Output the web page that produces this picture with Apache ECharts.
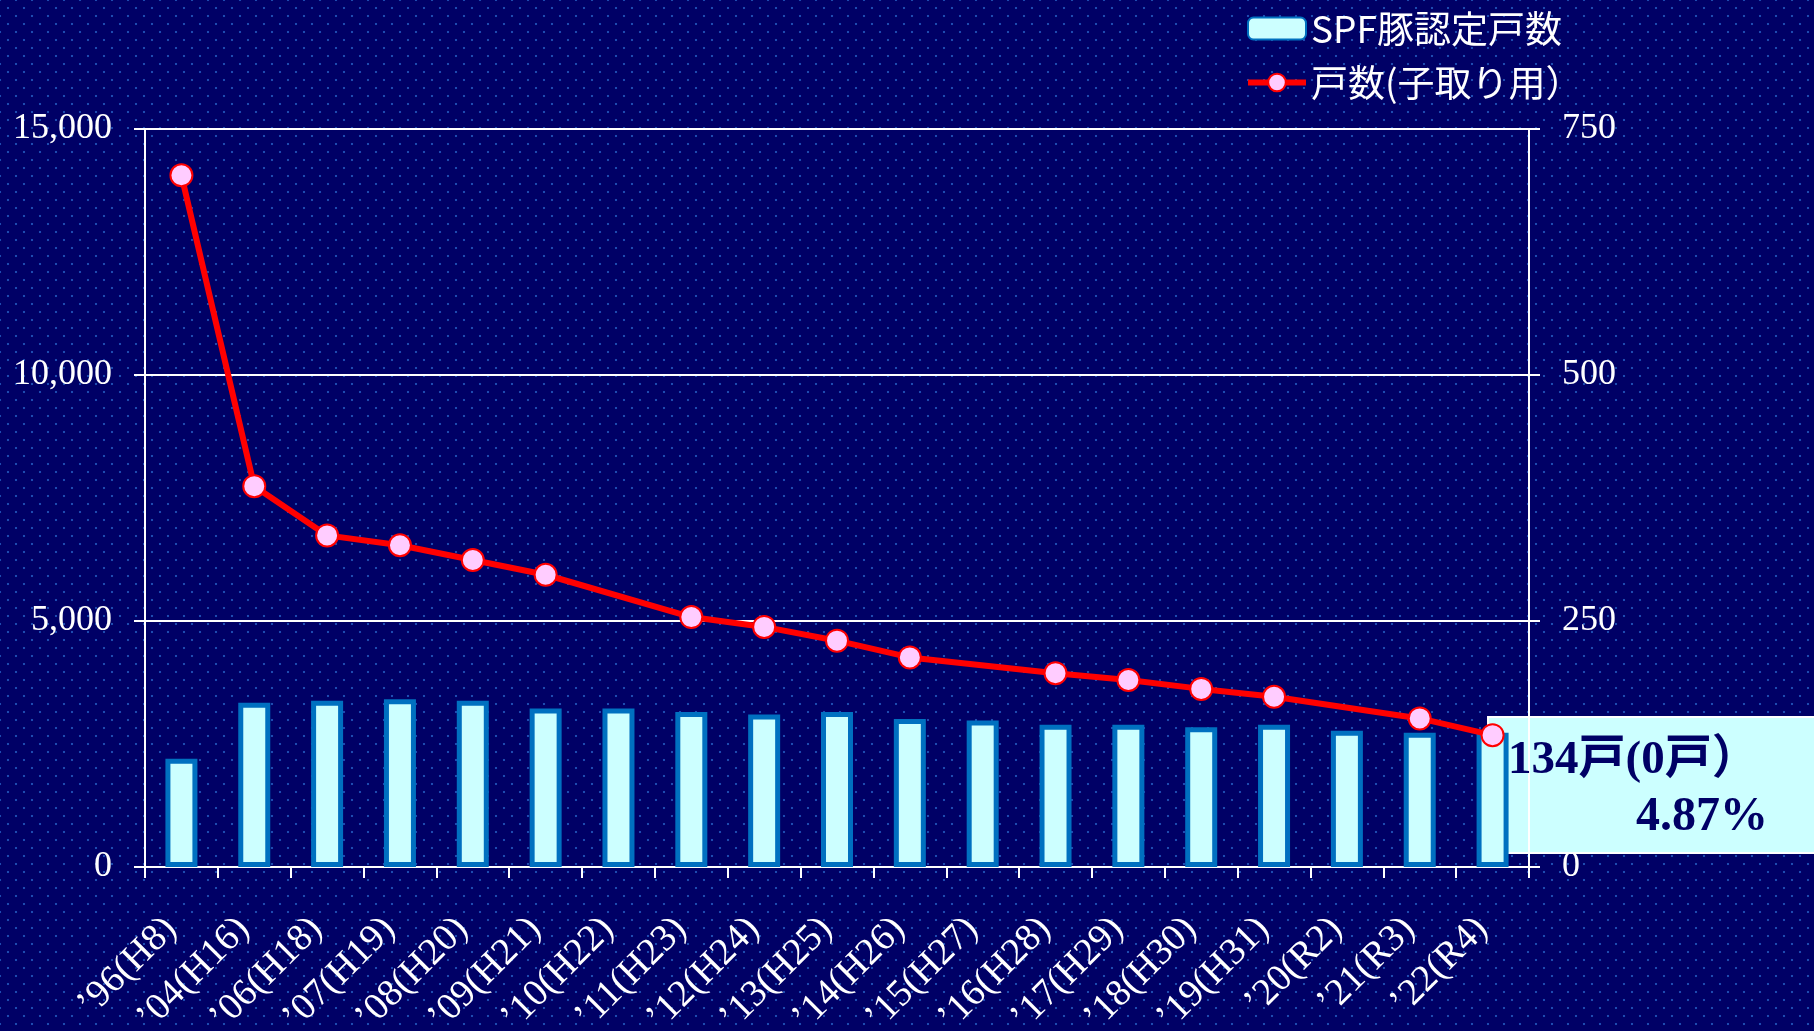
<!DOCTYPE html>
<html>
<head>
<meta charset="utf-8">
<script src="https://cdn.jsdelivr.net/npm/echarts@6/dist/echarts.min.js"></script>
<style>
  html, body { margin: 0; padding: 0; }
  #chart {
    width: 1814px;
    height: 1031px;
    background-color: #000066;
    background-image:
      radial-gradient(circle, rgba(40, 100, 200, 0.75) 0.8px, rgba(0, 0, 102, 0) 1.6px),
      radial-gradient(circle, rgba(40, 100, 200, 0.75) 0.8px, rgba(0, 0, 102, 0) 1.6px);
    background-size: 16px 16px;
    background-position: 0 0, 8px 8px;
  }
</style>
</head>
<body>
<div id="chart"></div>
<script>
const years = ['’96(H8)', '’04(H16)', '’06(H18)', '’07(H19)', '’08(H20)', '’09(H21)',
  '’10(H22)', '’11(H23)', '’12(H24)', '’13(H25)', '’14(H26)', '’15(H27)', '’16(H28)',
  '’17(H29)', '’18(H30)', '’19(H31)', '’20(R2)', '’21(R3)', '’22(R4)']

// SPF豚認定戸数 (left axis)
const spfFarms = [2200, 3340, 3380, 3410, 3380, 3220, 3220, 3150, 3100, 3150, 3010, 2980, 2890,
  2890, 2840, 2890, 2770, 2730, 2730]

// 戸数(子取り用) (right axis), no point for '10, '15, '20
const breedingFarms = [703, 387, 337, 327, 312, 297, null, 254, 244, 230, 213, null, 197,
  190, 181, 173, null, 151, 134]

const leftTicks = { min: 0, max: 15000, interval: 5000 }
const rightTicks = { min: 0, max: 750, interval: 250 }

const note1 = '134戸(0戸）'
const note2 = '4.87%'

const serif = '"Liberation Serif", "Times New Roman", "Noto Sans CJK JP", serif'
const white = '#ffffff'

const chart = echarts.init(document.getElementById('chart'), null, { renderer: 'canvas' })

const axisLine = { show: true, lineStyle: { color: white, width: 2 } }
const axisTick = { show: true, length: 11, lineStyle: { color: white, width: 2 } }

const option = {
  backgroundColor: 'transparent',
  animation: false,
  grid: { left: 145, top: 129, width: 1384, height: 738, containLabel: false, outerBoundsMode: 'none' },
  legend: {
    orient: 'vertical',
    left: 1240,
    top: 5,
    itemWidth: 58,
    itemHeight: 22,
    itemGap: 17,
    selectedMode: false,
    textStyle: { color: white, fontSize: 37, fontFamily: '"Noto Sans CJK JP", sans-serif' },
    data: [
      { name: 'SPF豚認定戸数' },
      { name: '戸数(子取り用）', lineStyle: { width: 6, color: '#ff0000' } }
    ]
  },
  xAxis: {
    type: 'category',
    data: years,
    boundaryGap: true,
    axisLine: axisLine,
    axisTick: { ...axisTick, alignWithLabel: false },
    axisLabel: {
      interval: 0,
      rotate: 45,
      margin: 46,
      padding: [0, 15, 0, 0],
      color: white,
      fontSize: 38,
      fontFamily: serif
    }
  },
  yAxis: [
    {
      type: 'value',
      ...leftTicks,
      axisLine: axisLine,
      axisTick: axisTick,
      splitLine: { show: true, lineStyle: { color: white, width: 2 } },
      axisLabel: {
        margin: 33,
        color: white,
        fontSize: 36,
        fontFamily: serif,
        formatter: v => v.toLocaleString('en-US')
      }
    },
    {
      type: 'value',
      ...rightTicks,
      position: 'right',
      axisLine: axisLine,
      axisTick: axisTick,
      splitLine: { show: false },
      axisLabel: { margin: 33, color: white, fontSize: 36, fontFamily: serif }
    }
  ],
  series: [
    {
      name: 'SPF豚認定戸数',
      type: 'bar',
      yAxisIndex: 0,
      data: spfFarms,
      barWidth: 32,
      itemStyle: { color: '#ccffff', borderColor: '#0070c0', borderWidth: 5 },
      z: 2
    },
    {
      name: '戸数(子取り用）',
      type: 'line',
      yAxisIndex: 1,
      data: breedingFarms,
      connectNulls: true,
      symbol: 'circle',
      symbolSize: 22,
      lineStyle: { color: '#ff0000', width: 6 },
      itemStyle: { color: '#ffccff', borderColor: '#ff0000', borderWidth: 2 },
      z: 3
    }
  ],
  graphic: [
    {
      type: 'rect',
      x: 1488,
      y: 717,
      shape: { width: 330, height: 136 },
      style: { fill: '#ccffff', stroke: white, lineWidth: 2 },
      z: -1
    },
    {
      type: 'text',
      x: 1508,
      y: 761,
      style: { text: note1, font: 'bold 47px ' + serif, fill: '#000066', verticalAlign: 'middle' },
      z: 100
    },
    {
      type: 'text',
      x: 1636,
      y: 818,
      style: { text: note2, font: 'bold 48px ' + serif, fill: '#000066', verticalAlign: 'middle' },
      z: 100
    }
  ]
}

chart.setOption(option)
</script>
</body>
</html>
